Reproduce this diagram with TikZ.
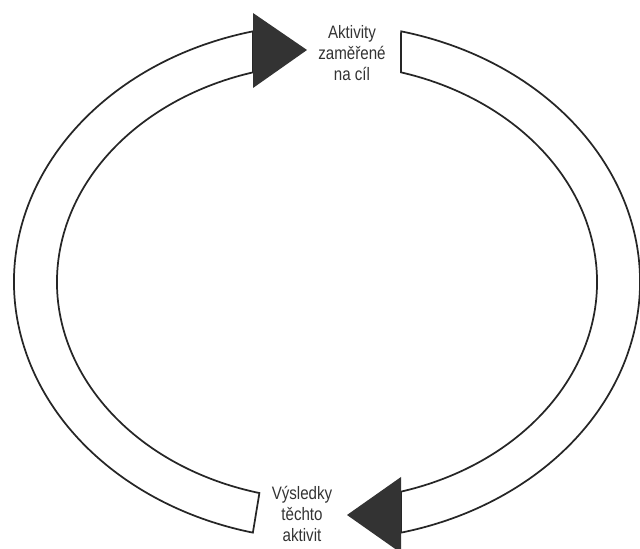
\documentclass[tikz,border=0pt]{standalone}
\usepackage{fontspec}
\setmainfont[FakeStretch=0.84]{Liberation Sans}
\usetikzlibrary{calc}

\begin{document}
\begin{tikzpicture}[
    x=0.75pt, y=0.75pt,
    band/.style={draw=black!85, line width=1.3pt, fill=white},
    head/.style={fill=black!80, draw=none},
    label/.style={align=center, font=\fontsize{13.5}{16}\selectfont, text=black!80}
]
    \useasboundingbox (0,0) rectangle (640,549);
    \coordinate (c) at (327,267);

    % left band, going up
    \draw[band] ($(c)+(103.7:313 and 258)$) arc[start angle=103.7, end angle=256.3, x radius=313, y radius=258]
        -- ($(c)+(255.5:270 and 218)$) arc[start angle=255.5, end angle=105.9, x radius=270, y radius=218]
        -- cycle;
    % right band, going down
    \draw[band] ($(c)+(76.3:313 and 258)$) arc[start angle=76.3, end angle=-76.3, x radius=313, y radius=258]
        -- ($(c)+(-74.1:270 and 218)$) arc[start angle=-74.1, end angle=74.1, x radius=270, y radius=218]
        -- cycle;

    % arrowheads
    \fill[head] (253,536) -- (307,499) -- (253,461) -- cycle;
    \fill[head] (401,72) -- (347,34) -- (401,-4) -- cycle;

    \node[label] (goal) at (352,496) {Aktivity\\zaměřené\\na cíl};
    \node[label] (result) at (302,35) {Výsledky\\těchto\\aktivit};
\end{tikzpicture}
\end{document}
